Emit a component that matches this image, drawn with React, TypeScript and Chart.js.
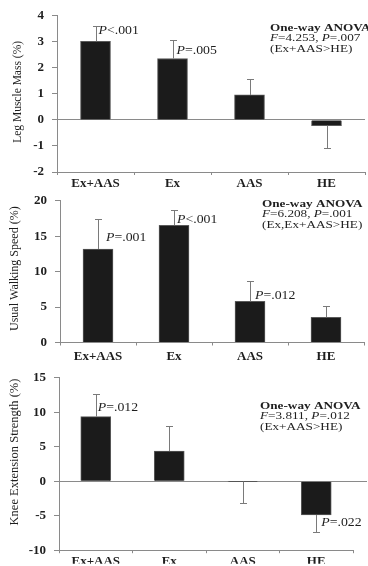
import React, { useEffect, useRef } from "react";
import { Chart, registerables } from "chart.js";

Chart.register(...registerables);

// ---------- data ----------
const categories = ["Ex+AAS", "Ex", "AAS", "HE"];

const legMuscleMass = [3.02, 2.36, 0.96, -0.22];
const legMuscleMassSD = [0.58, 0.7, 0.6, 0.86];
const legTicks = [-2, -1, 0, 1, 2, 3, 4];
const legPLabels = [
  { index: 0, value: 3.44, text: "P<.001" },
  { index: 1, value: 2.66, text: "P=.005" },
];
const legAnova = ["One-way ANOVA", "F=4.253, P=.007", "(Ex+AAS>HE)"];

const walkSpeed = [13.2, 16.55, 5.8, 3.55];
const walkSpeedSD = [4.2, 2.15, 2.9, 1.65];
const walkTicks = [0, 5, 10, 15, 20];
const walkPLabels = [
  { index: 0, value: 14.8, text: "P=.001" },
  { index: 1, value: 17.3, text: "P<.001" },
  { index: 2, value: 6.6, text: "P=.012" },
];
const walkAnova = ["One-way ANOVA", "F=6.208, P=.001", "(Ex,Ex+AAS>HE)"];

const kneeStrength = [9.38, 4.38, -0.05, -4.9];
const kneeStrengthSD = [3.3, 3.7, 3.05, 2.5];
const kneeTicks = [-10, -5, 0, 5, 10, 15];
const kneePLabels = [
  { index: 0, value: 10.7, text: "P=.012" },
  { index: 3, value: -6.1, text: "P=.022" },
];
const kneeAnova = ["One-way ANOVA", "F=3.811, P=.012", "(Ex+AAS>HE)"];

// ---------- layout / style ----------
const FONT = '"Liberation Serif", "Times New Roman", serif';
const AXIS = "#8a8a8a";
const TEXT = "#1e1e1e";

type PanelCfg = {
  title: string;
  values: number[];
  sd: number[];
  ticks: number[];
  pLabels: { index: number; value: number; text: string }[];
  pDx: number[];
  anova: string[];
  top: number;
  height: number;
  chartTop: number;
  chartBottom: number;
  left: number;
  right: number;
  zeroRight: number;
  titleX: number;
  titleDy: number;
  titleSize: number;
  xTickPad: number;
  anovaDx: number;
  anovaDy: number;
};

const panels: PanelCfg[] = [
  {
    title: "Leg Muscle Mass (%)",
    values: legMuscleMass,
    sd: legMuscleMassSD,
    ticks: legTicks,
    pLabels: legPLabels,
    pDx: [3, 4],
    anova: legAnova,
    top: 0,
    height: 192,
    chartTop: 15,
    chartBottom: 172,
    left: 57,
    right: 365,
    zeroRight: 365,
    titleX: 18,
    titleDy: -2,
    titleSize: 11.5,
    xTickPad: 1,
    anovaDx: 95,
    anovaDy: 12,
  },
  {
    title: "Usual Walking Speed (%)",
    values: walkSpeed,
    sd: walkSpeedSD,
    ticks: walkTicks,
    pLabels: walkPLabels,
    pDx: [8, 3, 5],
    anova: walkAnova,
    top: 185,
    height: 190,
    chartTop: 198,
    chartBottom: 342.5,
    left: 60,
    right: 364,
    zeroRight: 364,
    titleX: 15,
    titleDy: -3,
    titleSize: 12,
    xTickPad: 3,
    anovaDx: 102,
    anovaDy: 3,
  },
  {
    title: "Knee Extension Strength (%)",
    values: kneeStrength,
    sd: kneeStrengthSD,
    ticks: kneeTicks,
    pLabels: kneePLabels,
    pDx: [2, 5],
    anova: kneeAnova,
    top: 362,
    height: 204,
    chartTop: 374.3,
    chartBottom: 552.5,
    left: 59,
    right: 353,
    zeroRight: 367,
    titleX: 15,
    titleDy: -12,
    titleSize: 12.5,
    xTickPad: 1,
    anovaDx: 93,
    anovaDy: 28,
  },
];

function segments(text: string) {
  const out: { t: string; italic: boolean }[] = [];
  const re = /([FP])(?=[=<])/g;
  let last = 0;
  let m: RegExpExecArray | null;
  while ((m = re.exec(text))) {
    if (m.index > last) out.push({ t: text.slice(last, m.index), italic: false });
    out.push({ t: m[1], italic: true });
    last = m.index + 1;
  }
  if (last < text.length) out.push({ t: text.slice(last), italic: false });
  return out;
}

function drawRich(
  ctx: CanvasRenderingContext2D,
  text: string,
  x: number,
  y: number,
  size: number,
  bold: boolean,
  sx: number
) {
  ctx.save();
  ctx.translate(x, y);
  ctx.scale(sx, 1);
  ctx.textBaseline = "middle";
  ctx.textAlign = "left";
  ctx.fillStyle = TEXT;
  let cx = 0;
  for (const s of segments(text)) {
    ctx.font = `${s.italic ? "italic " : ""}${bold ? "bold " : ""}${size}px ${FONT}`;
    ctx.fillText(s.t, cx, 0);
    cx += ctx.measureText(s.t).width;
  }
  ctx.restore();
}

function Panel({ cfg }: { cfg: PanelCfg }) {
  const ref = useRef<HTMLCanvasElement | null>(null);

  useEffect(() => {
    if (!ref.current) return;
    const overlay = {
      id: "overlay",
      afterDatasetsDraw(chart: any) {
        const ctx: CanvasRenderingContext2D = chart.ctx;
        const ys = chart.scales.y;
        const meta = chart.getDatasetMeta(0);
        const area = chart.chartArea;
        ctx.save();
        // extended zero line
        if (cfg.zeroRight > area.right) {
          const y0 = Math.round(ys.getPixelForValue(0)) + 0.5;
          ctx.strokeStyle = AXIS;
          ctx.lineWidth = 1;
          ctx.beginPath();
          ctx.moveTo(area.right, y0);
          ctx.lineTo(cfg.zeroRight, y0);
          ctx.stroke();
        }
        // error bars
        ctx.strokeStyle = "#7a7a7a";
        ctx.lineWidth = 1;
        cfg.values.forEach((v, i) => {
          const el = meta.data[i];
          const x = Math.round(el.x) + 0.5;
          const end = v + (v < 0 ? -1 : 1) * cfg.sd[i];
          const y0 = ys.getPixelForValue(v);
          const y1 = Math.round(ys.getPixelForValue(end)) + 0.5;
          ctx.beginPath();
          ctx.moveTo(x, y0);
          ctx.lineTo(x, y1);
          ctx.moveTo(x - 3.5, y1);
          ctx.lineTo(x + 3.5, y1);
          ctx.stroke();
        });
        // P labels
        cfg.pLabels.forEach((p, k) => {
          const el = meta.data[p.index];
          drawRich(ctx, p.text, el.x + cfg.pDx[k], ys.getPixelForValue(p.value), 12, false, 1.15);
        });
        // ANOVA block
        cfg.anova.forEach((line, k) => {
          drawRich(
            ctx,
            line,
            area.right - cfg.anovaDx,
            area.top + cfg.anovaDy + k * 10.5,
            11,
            k === 0,
            1.2
          );
        });
        // y-axis title
        ctx.save();
        ctx.translate(cfg.titleX, (area.top + area.bottom) / 2 + cfg.titleDy);
        ctx.rotate(-Math.PI / 2);
        ctx.textAlign = "center";
        ctx.textBaseline = "middle";
        ctx.fillStyle = TEXT;
        ctx.font = `${cfg.titleSize}px ${FONT}`;
        ctx.fillText(cfg.title, 0, 0);
        ctx.restore();
        ctx.restore();
      },
    };

    const chart = new Chart(ref.current, {
      type: "bar",
      data: {
        labels: categories,
        datasets: [
          {
            data: cfg.values,
            backgroundColor: "#1b1b1b",
            borderColor: "#5a5a5a",
            borderWidth: 1,
            barThickness: 30,
          },
        ],
      },
      options: {
        responsive: false,
        animation: false,
        devicePixelRatio: 1,
        layout: {
          padding: {
            top: cfg.chartTop - cfg.top,
            right: 368 - cfg.right,
            bottom: 0,
            left: 0,
          },
        },
        plugins: {
          legend: { display: false },
          tooltip: { enabled: false },
        },
        scales: {
          x: {
            type: "category",
            offset: true,
            grid: {
              offset: true,
              drawOnChartArea: false,
              drawTicks: true,
              tickLength: 3,
              color: AXIS,
            },
            border: { display: true, color: AXIS },
            ticks: {
              font: { family: FONT, size: 13, weight: "bold" },
              color: TEXT,
              padding: cfg.xTickPad,
              maxRotation: 0,
              autoSkip: false,
            },
            afterFit: (s: any) => {
              s.height = cfg.top + cfg.height - cfg.chartBottom;
            },
          },
          y: {
            min: cfg.ticks[0],
            max: cfg.ticks[cfg.ticks.length - 1],
            ticks: {
              stepSize: cfg.ticks[1] - cfg.ticks[0],
              font: { family: FONT, size: 13, weight: "bold" },
              color: TEXT,
              padding: 8,
            },
            grid: {
              color: (c: any) => (c.tick && c.tick.value === 0 ? AXIS : "rgba(0,0,0,0)"),
              tickColor: AXIS,
              tickLength: 5,
              drawTicks: true,
            },
            border: { display: true, color: AXIS },
            title: { display: false },
            afterFit: (s: any) => {
              s.width = cfg.left;
            },
          },
        },
      } as any,
      plugins: [overlay],
    });
    return () => chart.destroy();
  }, [cfg]);

  return (
    <canvas
      ref={ref}
      width={368}
      height={cfg.height}
      style={{ position: "absolute", left: 0, top: cfg.top, width: 368, height: cfg.height, display: "block" }}
    />
  );
}

export default function App() {
  return (
    <div
      style={{
        position: "absolute",
        left: 0,
        top: 0,
        width: 368,
        height: 566,
        overflow: "hidden",
        background: "#fff",
      }}
    >
      {panels.map((p, i) => (
        <Panel key={i} cfg={p} />
      ))}
    </div>
  );
}
